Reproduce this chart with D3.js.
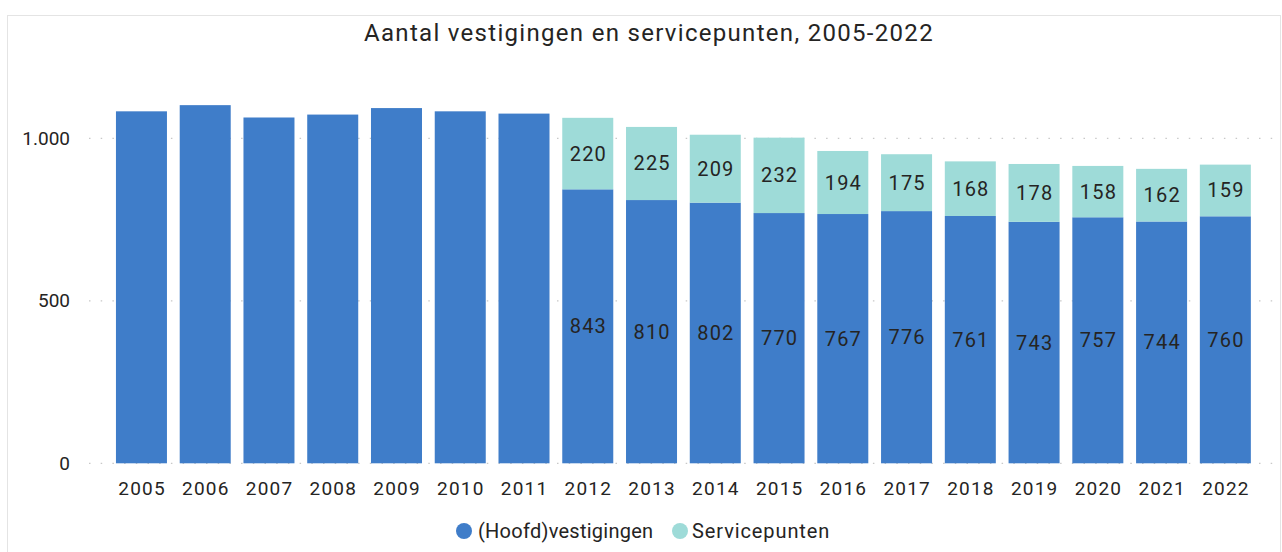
<!DOCTYPE html>
<html>
<head>
<meta charset="utf-8">
<script src="https://cdn.jsdelivr.net/npm/d3@7"></script>
<style>
  html, body { margin: 0; padding: 0; background: #ffffff; }
  svg { display: block; font-family: Roboto, "Noto Sans", sans-serif; }
</style>
</head>
<body>
<svg id="chart" width="1282" height="552"></svg>
<script>
const years = ["2005","2006","2007","2008","2009","2010","2011","2012","2013","2014","2015","2016","2017","2018","2019","2020","2021","2022"];
const hoofdvestigingen = [1083,1102,1064,1073,1093,1083,1076,843,810,802,770,767,776,761,743,757,744,760];
const servicepunten = [null,null,null,null,null,null,null,220,225,209,232,194,175,168,178,158,162,159];
const yTicks = [0, 500, 1000];
const seriesNames = ["(Hoofd)vestigingen", "Servicepunten"];
const colors = ["#3f7dc9", "#9edbd8"];
const textColor = "#252423";

const svg = d3.select("#chart");

// frame
svg.append("rect")
  .attr("x", 7.5).attr("y", 15.5)
  .attr("width", 1273).attr("height", 560)
  .attr("fill", "#ffffff")
  .attr("stroke", "#e4e4e4").attr("stroke-width", 1);

const x = d3.scaleBand().domain(years).range([103.2, 1263.6]).paddingInner(0.2).paddingOuter(0.2);
const y = d3.scaleLinear().domain([0, 1000]).range([463.3, 138.3]);

// gridlines
const numFmt = d3.formatLocale({decimal: ",", thousands: ".", grouping: [3], currency: ["€",""]}).format(",d");
svg.append("g").selectAll("line").data(yTicks).join("line")
  .attr("x1", 89).attr("x2", 1276)
  .attr("y1", d => y(d)).attr("y2", d => y(d))
  .attr("stroke", "#c8c8c8").attr("stroke-width", 1.3)
  .attr("stroke-dasharray", "1.5,10.2");

// y axis labels
svg.append("g").selectAll("text").data(yTicks).join("text")
  .attr("x", 70).attr("y", d => y(d))
  .attr("dy", "0.35em")
  .attr("text-anchor", "end")
  .attr("font-size", 19)
  .attr("fill", textColor)
  .text(d => numFmt(d));

const data = years.map((yr, i) => ({ yr, a: hoofdvestigingen[i], b: servicepunten[i] }));

// bars: hoofd
svg.append("g").selectAll("rect").data(data).join("rect")
  .attr("x", d => x(d.yr)).attr("width", x.bandwidth())
  .attr("y", d => y(d.a)).attr("height", d => y(0) - y(d.a))
  .attr("fill", colors[0]);

// bars: service
const withB = data.filter(d => d.b != null);
svg.append("g").selectAll("rect").data(withB).join("rect")
  .attr("x", d => x(d.yr)).attr("width", x.bandwidth())
  .attr("y", d => y(d.a + d.b)).attr("height", d => y(d.a) - y(d.a + d.b))
  .attr("fill", colors[1]);

// labels
svg.append("g").selectAll("text").data(withB).join("text")
  .attr("x", d => x(d.yr) + x.bandwidth() / 2 + 0.6)
  .attr("y", d => (y(0) + y(d.a)) / 2)
  .attr("dy", "0.35em").attr("text-anchor", "middle")
  .attr("font-size", 20).attr("letter-spacing", 1.2).attr("fill", textColor)
  .text(d => d.a);
svg.append("g").selectAll("text").data(withB).join("text")
  .attr("x", d => x(d.yr) + x.bandwidth() / 2 + 0.6)
  .attr("y", d => (y(d.a) + y(d.a + d.b)) / 2)
  .attr("dy", "0.35em").attr("text-anchor", "middle")
  .attr("font-size", 20).attr("letter-spacing", 1.2).attr("fill", textColor)
  .text(d => d.b);

// x axis labels
const xAxis = d3.axisBottom(x).tickSize(0).tickPadding(0);
const gx = svg.append("g").attr("transform", `translate(0, ${y(0)})`).call(xAxis);
gx.select(".domain").remove();
gx.selectAll("text")
  .attr("x", 0.6)
  .attr("y", 25).attr("dy", "0.35em")
  .attr("font-size", 19).attr("letter-spacing", 1.2).attr("font-family", "Roboto, sans-serif")
  .attr("fill", textColor);

// title
svg.append("text")
  .attr("x", 649).attr("y", 33).attr("dy", "0.35em")
  .attr("text-anchor", "middle")
  .attr("font-size", 24).attr("letter-spacing", 1.3).attr("fill", textColor)
  .text("Aantal vestigingen en servicepunten, 2005-2022");

// legend
const legendItems = [
  { name: seriesNames[0], color: colors[0], cx: 464, tx: 478, ls: 0.25 },
  { name: seriesNames[1], color: colors[1], cx: 680, tx: 692, ls: 0.9 }
];
const lg = svg.append("g").selectAll("g").data(legendItems).join("g");
lg.append("circle").attr("cx", d => d.cx).attr("cy", 531).attr("r", 8).attr("fill", d => d.color);
lg.append("text").attr("x", d => d.tx).attr("y", 531).attr("dy", "0.35em")
  .attr("font-size", 20).attr("letter-spacing", d => d.ls).attr("fill", textColor).text(d => d.name);
</script>
</body>
</html>
